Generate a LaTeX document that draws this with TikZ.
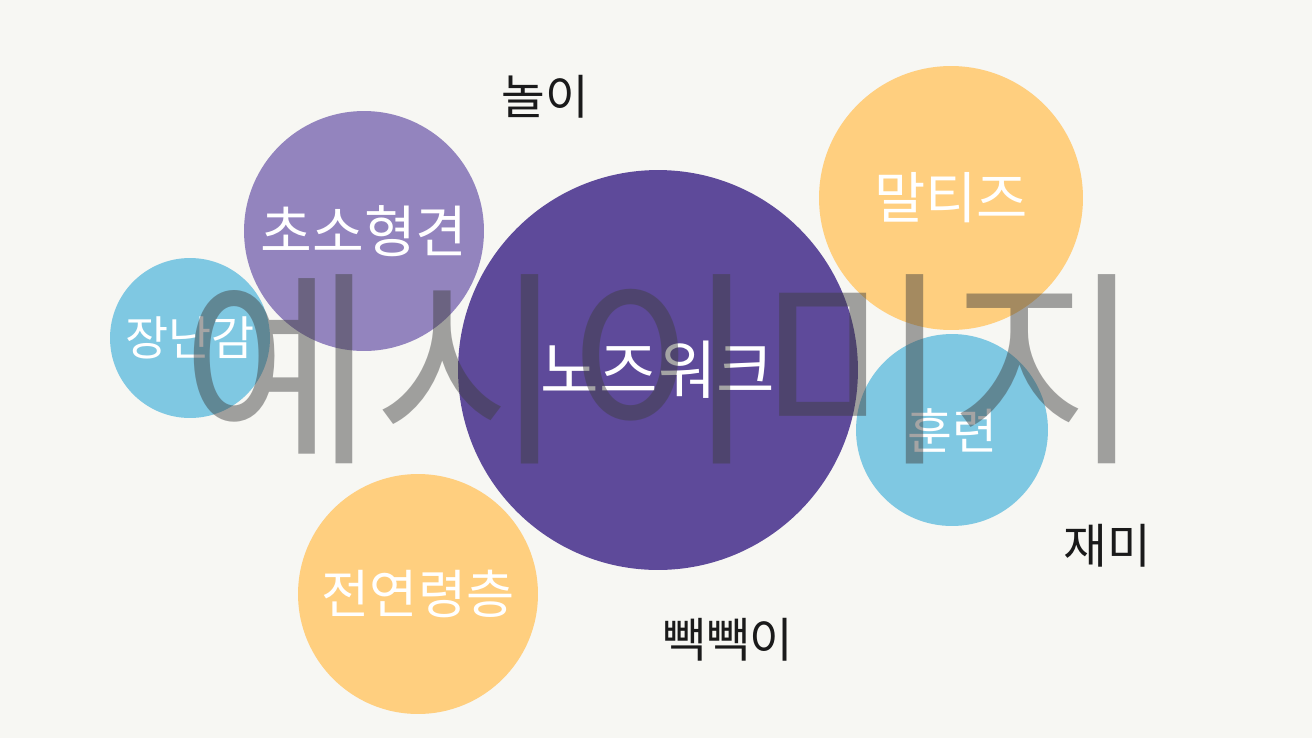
\documentclass[tikz,border=0pt]{standalone}
\usepackage{fontspec}
\setmainfont{Noto Sans CJK KR}
\usetikzlibrary{positioning}

\definecolor{paperbg}{HTML}{F7F7F3}
\definecolor{deeppurple}{HTML}{5E4A9A}
\definecolor{softpurple}{HTML}{9384BE}
\definecolor{skyblue}{HTML}{7FC8E2}
\definecolor{sandorange}{HTML}{FFCF7F}
\definecolor{inkdark}{HTML}{1A1A1A}
\definecolor{markgray}{HTML}{3E3E3E}

\newcommand{\fs}[1]{\fontsize{#1}{#1}\selectfont}

\begin{document}
\begin{tikzpicture}[x=0.02cm, y=-0.02cm,
        bubble/.style={circle, inner sep=0pt, text=white},
        word/.style={inner sep=0pt, text=inkdark, font=\fs{27}},
        stamp/.style={inner sep=0pt, text=markgray, text opacity=0.47, font=\fs{119}}
        ]
        \fill[paperbg] (0,0) rectangle (1312,738);
        \useasboundingbox (0,0) rectangle (1312,738);
        % bubbles
        \node[bubble, fill=deeppurple, minimum size=8cm, font=\fs{36.2}]  (nosework) at (658,370) {노즈워크};
        \node[bubble, fill=softpurple, minimum size=4.8cm, font=\fs{32}]  (tinydog)  at (364,231) {초소형견};
        \node[bubble, fill=skyblue, minimum size=3.2cm, font=\fs{26.7}]   (toy)      at (190,338) {장난감};
        \node[bubble, fill=sandorange, minimum size=5.28cm, font=\fs{31.7}] (maltese) at (951,198) {말티즈};
        \node[bubble, fill=skyblue, minimum size=3.84cm, font=\fs{27.8}]  (training) at (952,430) {훈련};
        \node[bubble, fill=sandorange, minimum size=4.8cm, font=\fs{29.8}] (allages) at (418,594) {전연령층};
        % loose words
        \node[word] (play) at (545,97)  {놀이};
        \node[word] (fun)  at (1107,546) {재미};
        \node[word] (squeak) at (728,640) {빽빽이};
        % watermark
        \node[stamp] (sample) at (662,369) {예시이미지};
    \end{tikzpicture}
\end{document}
